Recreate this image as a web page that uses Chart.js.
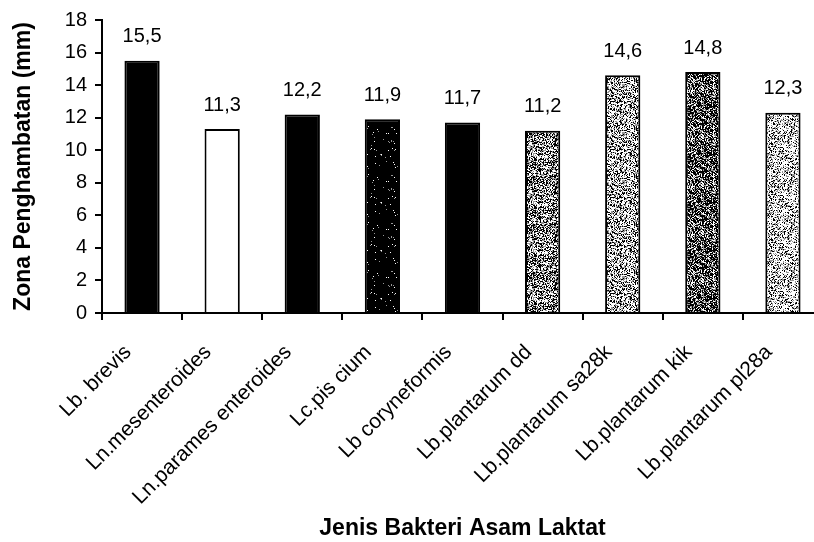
<!DOCTYPE html>
<html>
<head>
<meta charset="utf-8">
<script src="https://cdn.jsdelivr.net/npm/chart.js@4.4.1/dist/chart.umd.min.js"></script>
<style>
  html, body { margin: 0; padding: 0; background: #fff; overflow: hidden; }
  #wrap { width: 840px; height: 542px; }
</style>
</head>
<body>
<div id="wrap"><canvas id="c" width="840" height="542"></canvas></div>
<script>
// Inhibition zone (mm) per lactic acid bacteria isolate
const categories = [
  'Lb. brevis',
  'Ln.mesenteroides',
  'Ln.parames enteroides',
  'Lc.pis cium',
  'Lb coryneformis',
  'Lb.plantarum dd',
  'Lb.plantarum sa28k',
  'Lb.plantarum kik',
  'Lb.plantarum pl28a'
];
const zoneValues = [15.5, 11.3, 12.2, 11.9, 11.7, 11.2, 14.6, 14.8, 12.3];
const yTicks = [0, 2, 4, 6, 8, 10, 12, 14, 16, 18];

const FONT = "'Liberation Sans', Arial, sans-serif";

// Stippled fills: share of white and mid-grey pixels on a black ground
function hash(x, y, s) {
  let h = (x * 374761393 + y * 668265263 + s * 2147483647) | 0;
  h = (h ^ (h >>> 13)) * 1274126177 | 0;
  h = h ^ (h >>> 16);
  return (h >>> 0) / 4294967296;
}
function stipple(white, grey, seed) {
  const size = 48;
  const cv = document.createElement('canvas');
  cv.width = size; cv.height = size;
  const g = cv.getContext('2d');
  const img = g.createImageData(size, size);
  for (let y = 0; y < size; y++) {
    for (let x = 0; x < size; x++) {
      const r = hash(x, y, seed);
      let v = 0;
      if (r < white) v = 255;
      else if (r < white + grey) v = 150;
      const i = (y * size + x) * 4;
      img.data[i] = img.data[i + 1] = img.data[i + 2] = v;
      img.data[i + 3] = 255;
    }
  }
  g.putImageData(img, 0, 0);
  return g.createPattern(cv, 'repeat');
}

const ctx = document.getElementById('c').getContext('2d');
const fills = [
  '#000000',
  '#ffffff',
  '#000000',
  stipple(0.015, 0.02, 4),
  '#000000',
  stipple(0.36, 0.26, 6),
  stipple(0.46, 0.26, 7),
  stipple(0.20, 0.24, 8),
  stipple(0.56, 0.24, 9)
];

// Value labels above each bar, written with a decimal comma
const valueLabels = {
  id: 'valueLabels',
  afterDatasetsDraw(chart) {
    const c = chart.ctx;
    const meta = chart.getDatasetMeta(0);
    c.save();
    c.font = '20px ' + FONT;
    c.fillStyle = '#000';
    c.textAlign = 'center';
    c.textBaseline = 'middle';
    meta.data.forEach((bar, i) => {
      c.fillText(zoneValues[i].toFixed(1).replace('.', ','), bar.x, bar.y - 24);
    });
    c.restore();
  }
};

new Chart(ctx, {
  type: 'bar',
  data: {
    labels: categories,
    datasets: [{
      data: zoneValues,
      backgroundColor: fills,
      borderColor: '#000',
      borderWidth: 2,
      categoryPercentage: 1,
      barPercentage: 0.44
    }]
  },
  options: {
    responsive: false,
    animation: false,
    layout: { padding: { left: 10, top: 18, right: 17, bottom: 0 } },
    plugins: { legend: { display: false }, tooltip: { enabled: false } },
    scales: {
      x: {
        grid: { offset: true, drawOnChartArea: false, color: '#000', lineWidth: 2, tickLength: 7 },
        border: { color: '#000', width: 2 },
        ticks: {
          color: '#000',
          font: { family: FONT, size: 21 },
          minRotation: 45,
          maxRotation: 45,
          autoSkip: false,
          padding: 20,
          labelOffset: -14
        },
        title: {
          display: true,
          text: 'Jenis Bakteri Asam Laktat',
          color: '#000',
          font: { family: FONT, size: 23, weight: 'bold' },
          padding: { top: 0, bottom: 0 }
        },
        afterFit(scale) { scale.height = 229; }
      },
      y: {
        min: 0,
        max: 18,
        afterBuildTicks(scale) { scale.ticks = yTicks.map(v => ({ value: v })); },
        grid: { drawOnChartArea: false, color: '#000', lineWidth: 2, tickLength: 7 },
        border: { color: '#000', width: 2 },
        ticks: {
          color: '#000',
          font: { family: FONT, size: 20 },
          padding: 8
        },
        title: {
          display: true,
          text: 'Zona Penghambatan (mm)',
          color: '#000',
          font: { family: FONT, size: 23, weight: 'bold' },
          padding: { top: 0, bottom: 0 }
        },
        afterFit(scale) { scale.width = 92; }
      }
    }
  },
  plugins: [valueLabels]
});
</script>
</body>
</html>
